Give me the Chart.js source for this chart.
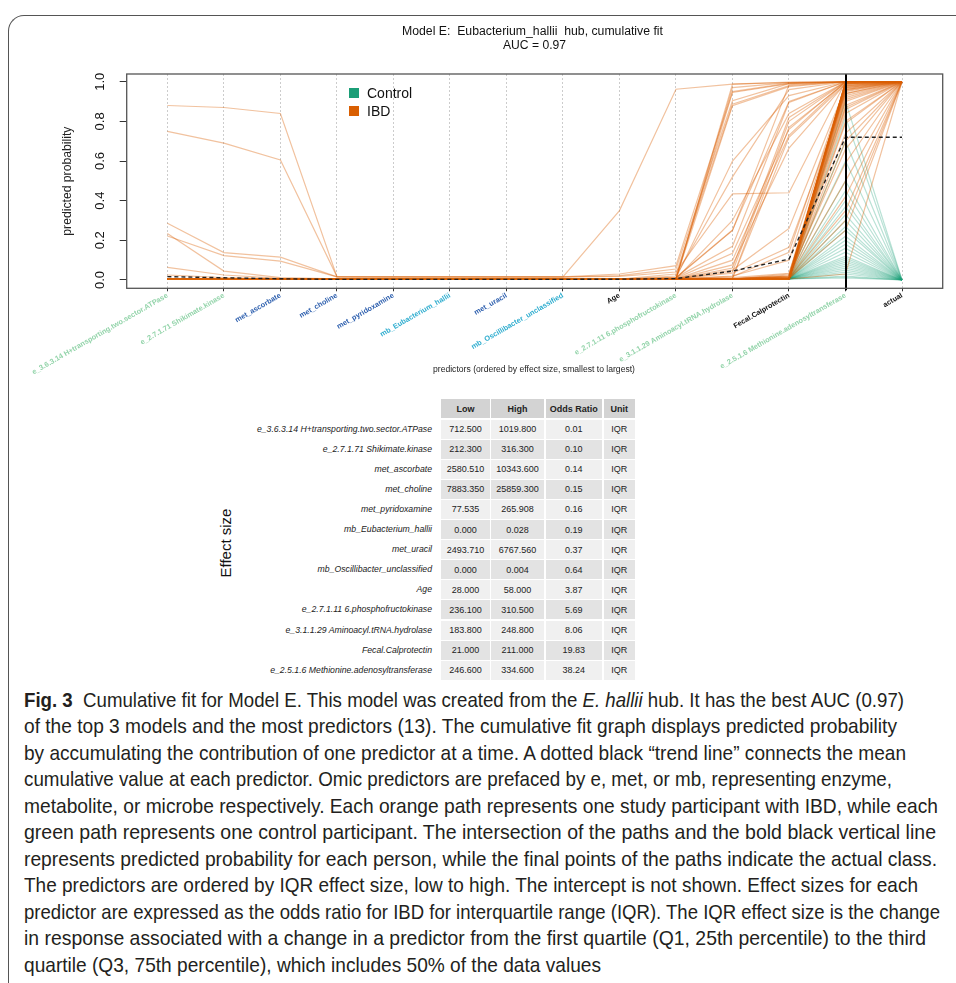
<!DOCTYPE html>
<html><head><meta charset="utf-8">
<script src="https://cdn.jsdelivr.net/npm/chart.js@4.4.0/dist/chart.umd.min.js"></script>
<style>
html,body{margin:0;padding:0;background:#fff;}
body{width:956px;height:983px;position:relative;overflow:hidden;font-family:"Liberation Sans",Arial,sans-serif;color:#111;}
#frame{position:absolute;left:8px;top:15px;width:1000px;height:1100px;border-left:1.5px solid #555;border-top:1.5px solid #555;border-top-left-radius:16px;box-sizing:border-box;}
#chartBox{position:absolute;left:0;top:0;width:956px;height:380px;}
.fit{position:absolute;white-space:nowrap;display:inline-block;transform-origin:0 50%;}
.cell{position:absolute;font-size:9px;display:flex;align-items:center;justify-content:center;color:#222;}
.rlab{position:absolute;font-size:8.7px;font-style:italic;text-align:right;color:#222;white-space:nowrap;}
.cap{font-family:"Liberation Sans Narrow","Liberation Sans",Arial,sans-serif;font-size:21px;line-height:26px;height:26px;color:#231f20;}
</style></head>
<body>
<div id="frame"></div>
<div id="chartBox"><canvas id="c" width="956" height="380"></canvas></div>
<div id="titles"></div>
<div id="legend"></div>
<div id="table"></div>
<div id="caption"></div>
<script>
// ---------------- data ----------------
const predictors = ["e_3.6.3.14 H+transporting.two.sector.ATPase","e_2.7.1.71 Shikimate.kinase","met_ascorbate","met_choline","met_pyridoxamine","mb_Eubacterium_hallii","met_uracil","mb_Oscillibacter_unclassified","Age","e_2.7.1.11 6.phosphofructokinase","e_3.1.1.29 Aminoacyl.tRNA.hydrolase","Fecal.Calprotectin","e_2.5.1.6 Methionine.adenosyltransferase"];
const axisLabels = predictors.concat(["actual"]);
const yTicks = [0, 0.2, 0.4, 0.6, 0.8, 1.0];
const predictedIndex = 12;
const ibdActual = 1;
const controlActual = 0;
const meanPath = [0.017,0.011,0.006,0.003,0.003,0.003,0.003,0.003,0.004,0.007,0.045,0.105,0.720,0.720];

const ibdEarly = [
[0.880,0.870,0.840,0.017,0.016,0.016,0.016,0.016,0.350,0.962,0.988,0.996,1.000],
[0.750,0.690,0.605,0.017,0.016,0.016,0.016,0.016,0.030,0.072,0.950,0.993,1.000],
[0.286,0.138,0.115,0.016,0.015,0.015,0.015,0.015,0.022,0.055,0.904,0.990,1.000],
[0.222,0.123,0.095,0.016,0.015,0.015,0.015,0.015,0.018,0.040,0.434,0.440,1.000],
[0.235,0.045,0.012,0.006,0.005,0.005,0.005,0.005,0.005,0.030,0.887,0.980,1.000],
[0.064,0.025,0.008,0.005,0.005,0.005,0.005,0.005,0.005,0.020,0.520,0.960,1.000],
[0.025,0.012,0.006,0.005,0.005,0.005,0.005,0.005,0.005,0.013,0.252,0.900,1.000]
];
const ibdMid = [
[0.006,0.005,0.005,0.004,0.004,0.004,0.004,0.004,0.004,0.006,0.988,0.998,1.000],
[0.006,0.005,0.005,0.004,0.004,0.004,0.004,0.004,0.004,0.006,0.970,0.995,1.000],
[0.005,0.005,0.005,0.004,0.004,0.004,0.004,0.004,0.004,0.007,0.946,0.990,1.000],
[0.005,0.005,0.005,0.004,0.004,0.004,0.004,0.004,0.004,0.008,0.879,0.975,1.000],
[0.005,0.005,0.005,0.004,0.004,0.004,0.004,0.004,0.004,0.010,0.600,0.930,1.000],
[0.005,0.005,0.005,0.004,0.004,0.004,0.004,0.004,0.004,0.012,0.170,0.895,1.000],
[0.005,0.005,0.005,0.004,0.004,0.004,0.004,0.004,0.004,0.008,0.135,0.760,1.000],
[0.005,0.005,0.005,0.004,0.004,0.004,0.004,0.004,0.004,0.006,0.100,0.730,1.000],
[0.005,0.005,0.005,0.004,0.004,0.004,0.004,0.004,0.004,0.006,0.076,0.665,0.990],
[0.005,0.005,0.005,0.004,0.004,0.004,0.004,0.004,0.004,0.006,0.050,0.260,0.970],
[0.005,0.005,0.005,0.004,0.004,0.004,0.004,0.004,0.004,0.005,0.034,0.165,0.940],
[0.005,0.005,0.005,0.004,0.004,0.004,0.004,0.004,0.004,0.005,0.017,0.140,0.980],
[0.005,0.005,0.005,0.004,0.004,0.004,0.004,0.004,0.004,0.010,0.250,0.985,1.000],
[0.005,0.005,0.005,0.004,0.004,0.004,0.004,0.004,0.004,0.007,0.300,0.840,1.000],
[0.005,0.005,0.005,0.004,0.004,0.004,0.004,0.004,0.004,0.006,0.020,0.100,0.960],
[0.005,0.005,0.005,0.004,0.004,0.004,0.004,0.004,0.004,0.006,0.012,0.034,0.870],
[0.005,0.005,0.005,0.004,0.004,0.004,0.004,0.004,0.004,0.005,0.060,0.820,1.000],
[0.005,0.005,0.005,0.004,0.004,0.004,0.004,0.004,0.004,0.005,0.040,0.800,1.000],
[0.005,0.005,0.005,0.004,0.004,0.004,0.004,0.004,0.004,0.005,0.010,0.770,0.995],
[0.005,0.005,0.005,0.004,0.004,0.004,0.004,0.004,0.004,0.005,0.008,0.720,0.990]
];
const ibdLate = [
[0.006,0.005,0.005,0.004,0.004,0.004,0.004,0.004,0.004,0.005,0.006,0.007,1.000],
[0.005,0.005,0.004,0.004,0.004,0.004,0.004,0.004,0.004,0.004,0.005,0.005,1.000],
[0.006,0.005,0.005,0.004,0.004,0.004,0.004,0.004,0.004,0.005,0.006,0.012,0.999],
[0.005,0.005,0.004,0.004,0.004,0.004,0.004,0.004,0.004,0.004,0.005,0.005,0.998],
[0.006,0.005,0.005,0.004,0.004,0.004,0.004,0.004,0.004,0.005,0.006,0.020,0.997],
[0.005,0.005,0.004,0.004,0.004,0.004,0.004,0.004,0.004,0.004,0.005,0.006,0.996],
[0.006,0.005,0.005,0.004,0.004,0.004,0.004,0.004,0.004,0.005,0.006,0.008,0.995],
[0.005,0.005,0.004,0.004,0.004,0.004,0.004,0.004,0.004,0.004,0.005,0.005,0.994],
[0.006,0.005,0.005,0.004,0.004,0.004,0.004,0.004,0.004,0.005,0.006,0.030,0.992],
[0.005,0.005,0.004,0.004,0.004,0.004,0.004,0.004,0.004,0.004,0.005,0.006,0.990],
[0.006,0.005,0.005,0.004,0.004,0.004,0.004,0.004,0.004,0.005,0.006,0.010,0.988],
[0.005,0.005,0.004,0.004,0.004,0.004,0.004,0.004,0.004,0.004,0.005,0.005,0.985],
[0.006,0.005,0.005,0.004,0.004,0.004,0.004,0.004,0.004,0.005,0.006,0.015,0.982],
[0.005,0.005,0.004,0.004,0.004,0.004,0.004,0.004,0.004,0.004,0.005,0.006,0.978],
[0.006,0.005,0.005,0.004,0.004,0.004,0.004,0.004,0.004,0.005,0.006,0.007,0.975],
[0.005,0.005,0.004,0.004,0.004,0.004,0.004,0.004,0.004,0.004,0.005,0.005,0.970],
[0.006,0.005,0.005,0.004,0.004,0.004,0.004,0.004,0.004,0.005,0.006,0.025,0.965],
[0.005,0.005,0.004,0.004,0.004,0.004,0.004,0.004,0.004,0.004,0.005,0.006,0.960],
[0.006,0.005,0.005,0.004,0.004,0.004,0.004,0.004,0.004,0.005,0.006,0.009,0.955],
[0.005,0.005,0.004,0.004,0.004,0.004,0.004,0.004,0.004,0.004,0.005,0.005,0.950],
[0.006,0.005,0.005,0.004,0.004,0.004,0.004,0.004,0.004,0.005,0.006,0.012,0.940],
[0.005,0.005,0.004,0.004,0.004,0.004,0.004,0.004,0.004,0.004,0.005,0.006,0.930],
[0.006,0.005,0.005,0.004,0.004,0.004,0.004,0.004,0.004,0.005,0.006,0.008,0.920],
[0.005,0.005,0.004,0.004,0.004,0.004,0.004,0.004,0.004,0.004,0.005,0.005,0.910],
[0.006,0.005,0.005,0.004,0.004,0.004,0.004,0.004,0.004,0.005,0.006,0.018,0.900],
[0.005,0.005,0.004,0.004,0.004,0.004,0.004,0.004,0.004,0.004,0.005,0.006,0.880],
[0.006,0.005,0.005,0.004,0.004,0.004,0.004,0.004,0.004,0.005,0.006,0.010,0.860],
[0.005,0.005,0.004,0.004,0.004,0.004,0.004,0.004,0.004,0.004,0.005,0.005,0.840],
[0.006,0.005,0.005,0.004,0.004,0.004,0.004,0.004,0.004,0.005,0.006,0.014,0.800],
[0.005,0.005,0.004,0.004,0.004,0.004,0.004,0.004,0.004,0.004,0.005,0.006,0.790],
[0.006,0.005,0.005,0.004,0.004,0.004,0.004,0.004,0.004,0.005,0.006,0.007,0.740],
[0.005,0.005,0.004,0.004,0.004,0.004,0.004,0.004,0.004,0.004,0.005,0.005,0.700],
[0.006,0.005,0.005,0.004,0.004,0.004,0.004,0.004,0.004,0.005,0.006,0.020,0.660],
[0.005,0.005,0.004,0.004,0.004,0.004,0.004,0.004,0.004,0.004,0.005,0.006,0.590],
[0.006,0.005,0.005,0.004,0.004,0.004,0.004,0.004,0.004,0.005,0.006,0.009,0.500],
[0.005,0.005,0.004,0.004,0.004,0.004,0.004,0.004,0.004,0.004,0.005,0.005,0.420],
[0.006,0.005,0.005,0.004,0.004,0.004,0.004,0.004,0.004,0.005,0.006,0.011,0.350],
[0.005,0.005,0.004,0.004,0.004,0.004,0.004,0.004,0.004,0.004,0.005,0.006,0.300],
[0.006,0.005,0.005,0.004,0.004,0.004,0.004,0.004,0.004,0.005,0.006,0.008,0.250],
[0.005,0.005,0.004,0.004,0.004,0.004,0.004,0.004,0.004,0.004,0.005,0.005,0.030]
];
const controlPaths = [
[0.005,0.005,0.004,0.004,0.004,0.004,0.004,0.004,0.004,0.004,0.005,0.005,0.900],
[0.005,0.004,0.004,0.004,0.004,0.004,0.004,0.004,0.004,0.004,0.004,0.005,0.820],
[0.005,0.005,0.004,0.004,0.004,0.004,0.004,0.004,0.004,0.004,0.005,0.006,0.700],
[0.005,0.004,0.004,0.004,0.004,0.004,0.004,0.004,0.004,0.004,0.004,0.005,0.600],
[0.005,0.005,0.004,0.004,0.004,0.004,0.004,0.004,0.004,0.004,0.005,0.005,0.500],
[0.005,0.005,0.004,0.004,0.004,0.004,0.004,0.004,0.004,0.004,0.005,0.006,0.450],
[0.005,0.004,0.004,0.004,0.004,0.004,0.004,0.004,0.004,0.004,0.004,0.005,0.400],
[0.005,0.005,0.004,0.004,0.004,0.004,0.004,0.004,0.004,0.004,0.005,0.005,0.370],
[0.005,0.005,0.004,0.004,0.004,0.004,0.004,0.004,0.004,0.004,0.005,0.006,0.330],
[0.005,0.004,0.004,0.004,0.004,0.004,0.004,0.004,0.004,0.004,0.004,0.005,0.300],
[0.005,0.005,0.004,0.004,0.004,0.004,0.004,0.004,0.004,0.004,0.005,0.005,0.270],
[0.005,0.005,0.004,0.004,0.004,0.004,0.004,0.004,0.004,0.004,0.005,0.006,0.250],
[0.005,0.004,0.004,0.004,0.004,0.004,0.004,0.004,0.004,0.004,0.004,0.005,0.220],
[0.005,0.005,0.004,0.004,0.004,0.004,0.004,0.004,0.004,0.004,0.005,0.005,0.200],
[0.005,0.005,0.004,0.004,0.004,0.004,0.004,0.004,0.004,0.004,0.005,0.006,0.180],
[0.005,0.004,0.004,0.004,0.004,0.004,0.004,0.004,0.004,0.004,0.004,0.005,0.160],
[0.005,0.005,0.004,0.004,0.004,0.004,0.004,0.004,0.004,0.004,0.005,0.005,0.140],
[0.005,0.005,0.004,0.004,0.004,0.004,0.004,0.004,0.004,0.004,0.005,0.006,0.120],
[0.005,0.004,0.004,0.004,0.004,0.004,0.004,0.004,0.004,0.004,0.004,0.005,0.110],
[0.005,0.005,0.004,0.004,0.004,0.004,0.004,0.004,0.004,0.004,0.005,0.005,0.100],
[0.005,0.005,0.004,0.004,0.004,0.004,0.004,0.004,0.004,0.004,0.005,0.006,0.090],
[0.005,0.004,0.004,0.004,0.004,0.004,0.004,0.004,0.004,0.004,0.004,0.005,0.080],
[0.005,0.005,0.004,0.004,0.004,0.004,0.004,0.004,0.004,0.004,0.005,0.005,0.070],
[0.005,0.005,0.004,0.004,0.004,0.004,0.004,0.004,0.004,0.004,0.005,0.006,0.060],
[0.005,0.004,0.004,0.004,0.004,0.004,0.004,0.004,0.004,0.004,0.004,0.005,0.050],
[0.005,0.005,0.004,0.004,0.004,0.004,0.004,0.004,0.004,0.004,0.005,0.005,0.040],
[0.005,0.005,0.004,0.004,0.004,0.004,0.004,0.004,0.004,0.004,0.005,0.006,0.030],
[0.005,0.004,0.004,0.004,0.004,0.004,0.004,0.004,0.004,0.004,0.004,0.005,0.020],
[0.005,0.005,0.004,0.004,0.004,0.004,0.004,0.004,0.004,0.004,0.005,0.005,0.015],
[0.005,0.005,0.004,0.004,0.004,0.004,0.004,0.004,0.004,0.004,0.005,0.006,0.010]
];

// table values
const tableLow  = ["712.500","212.300","2580.510","7883.350","77.535","0.000","2493.710","0.000","28.000","236.100","183.800","21.000","246.600"];
const tableHigh = ["1019.800","316.300","10343.600","25859.300","265.908","0.028","6767.560","0.004","58.000","310.500","248.800","211.000","334.600"];
const tableOdds = ["0.01","0.10","0.14","0.15","0.16","0.19","0.37","0.64","3.87","5.69","8.06","19.83","38.24"];
const tableUnit = ["IQR","IQR","IQR","IQR","IQR","IQR","IQR","IQR","IQR","IQR","IQR","IQR","IQR"];
const tableHeader = ["Low","High","Odds Ratio","Unit"];

// ---------------- styles ----------------
const ORANGE = 'rgba(217,95,2,0.38)';
const GREEN = 'rgba(27,158,119,0.30)';
function labelColor(name){
  if (name.startsWith('e_')) return '#93d4aa';
  if (name.startsWith('met_')) return '#2d5fae';
  if (name.startsWith('mb_')) return '#2fadcf';
  return '#111';
}
function toPoints(arr){ return arr.map((v,i)=>({x:i,y:v})); }
// Chart.js paints dataset 0 last (on top): mean first, then IBD, then controls underneath
const datasets = [];
datasets.push({data:toPoints(meanPath),borderColor:'#222',borderWidth:1.4,borderDash:[4,3]});
ibdEarly.concat(ibdMid, ibdLate).forEach(p=>datasets.push({data:toPoints(p.concat([ibdActual])),borderColor:ORANGE,borderWidth:1.2}));
controlPaths.forEach(p=>datasets.push({data:toPoints(p.concat([controlActual])),borderColor:GREEN,borderWidth:1.2}));

const framePlugin = {
  id:'frame',
  afterDatasetsDraw(chart){
    const {ctx, chartArea:a, scales:{x}} = chart;
    ctx.save();
    const px = Math.round(x.getPixelForValue(predictedIndex));
    ctx.strokeStyle='#000'; ctx.lineWidth=2;
    ctx.beginPath(); ctx.moveTo(px, a.top); ctx.lineTo(px, a.bottom+2); ctx.stroke();
    ctx.strokeStyle='#555'; ctx.lineWidth=1.3;
    ctx.strokeRect(a.left, a.top, a.right-a.left, a.bottom-a.top);
    ctx.restore();
  }
};

new Chart(document.getElementById('c'), {
  type:'line',
  data:{datasets},
  plugins:[framePlugin],
  options:{
    responsive:false, animation:false, events:[],
    elements:{point:{radius:0},line:{tension:0}},
    layout:{padding:{top:74,right:13.3,left:0,bottom:0}},
    plugins:{legend:{display:false},tooltip:{enabled:false},title:{display:false}},
    scales:{
      x:{type:'linear',min:-0.72,max:13.72,
        afterBuildTicks:s=>{s.ticks=axisLabels.map((_,i)=>({value:i}));},
        afterFit:s=>{s.height=91.7;},
        ticks:{autoSkip:false,minRotation:30,maxRotation:30,padding:0,
          callback:(v)=>axisLabels[Math.round(v)],
          color:(c)=>labelColor(axisLabels[c.index]||''),
          font:{family:'Liberation Sans',size:7.3,weight:'bold'}},
        grid:{color:'#cccccc',lineWidth:1,tickColor:'#333',tickLength:3},
        border:{display:false,dash:[2,2]}
      },
      y:{min:-0.042,max:1.039,
        afterBuildTicks:s=>{s.ticks=yTicks.map(v=>({value:v}));},
        afterFit:s=>{s.width=126.7;},
        ticks:{minRotation:90,maxRotation:90,crossAlign:'center',padding:10,color:'#111',
          font:{family:'Liberation Sans',size:13},
          callback:(v)=>Number(v).toFixed(1)},
        grid:{drawOnChartArea:false,tickColor:'#333',tickLength:7},
        border:{display:false},
        title:{display:true,text:'predicted probability',color:'#222',
          font:{family:'Liberation Sans',size:12.2},padding:{top:60,bottom:0}}
      }
    }
  }
});

// ---------------- HTML text ----------------
function fitText(parent, html, left, top, target, css){
  const el=document.createElement('span');
  el.className='fit'; el.innerHTML=html; el.style.cssText+=css||'';
  el.style.left=left+'px'; el.style.top=top+'px';
  parent.appendChild(el);
  const w=el.getBoundingClientRect().width;
  if (target) el.style.transform='scaleX('+(target/w)+')';
  return el;
}
const titles=document.getElementById('titles');
fitText(titles,'Model E:&nbsp; Eubacterium_hallii&nbsp; hub, cumulative fit',402,24,261,'font-size:12px;line-height:14px;color:#111;');
fitText(titles,'AUC = 0.97',503,38,63,'font-size:12px;line-height:14px;color:#111;');
fitText(titles,'predictors (ordered by effect size, smallest to largest)',433,363,202,'font-size:8.5px;line-height:12px;color:#222;');

const legend=document.getElementById('legend');
legend.innerHTML=
 '<div style="position:absolute;left:349px;top:88px;width:10px;height:10px;background:#1b9e77"></div>'+
 '<div style="position:absolute;left:349px;top:106px;width:10px;height:10px;background:#d95f02"></div>'+
 '<div style="position:absolute;left:367px;top:85px;font-size:14px;line-height:16px;color:#111">Control</div>'+
 '<div style="position:absolute;left:367px;top:103px;font-size:14px;line-height:16px;color:#111">IBD</div>';

// table
const tbl=document.getElementById('table');
const cols=[[441,49],[491,53],[545.5,56.5],[603.5,31.5]];
const colVals=[tableLow,tableHigh,tableOdds,tableUnit];
let h='';
tableHeader.forEach((t,j)=>{h+=`<div class="cell" style="left:${cols[j][0]}px;top:399px;width:${cols[j][1]}px;height:19px;background:#d3d3d3;font-weight:bold;">${t}</div>`;});
predictors.forEach((name,i)=>{
  const top=419.5+i*20.1;
  const bg = i%2===0 ? '#f0f0f0' : '#e3e3e3';
  h+=`<div class="rlab" style="right:${956-432}px;top:${top}px;height:19px;line-height:19px;">${name}</div>`;
  colVals.forEach((vals,j)=>{h+=`<div class="cell" style="left:${cols[j][0]}px;top:${top}px;width:${cols[j][1]}px;height:19px;background:${bg};">${vals[i]}</div>`;});
});
h+='<div style="position:absolute;left:225px;top:543px;transform:translate(-50%,-50%) rotate(-90deg);font-size:15px;white-space:nowrap;color:#111">Effect size</div>';
tbl.innerHTML=h;

// caption
const capLines=[
 ['<b>Fig. 3</b>&nbsp; Cumulative fit for Model E. This model was created from the <i>E. hallii</i> hub. It has the best AUC (0.97)',904],
 ['of the top 3 models and the most predictors (13). The cumulative fit graph displays predicted probability',897],
 ['by accumulating the contribution of one predictor at a time. A dotted black “trend line” connects the mean',906],
 ['cumulative value at each predictor. Omic predictors are prefaced by e, met, or mb, representing enzyme,',892],
 ['metabolite, or microbe respectively. Each orange path represents one study participant with IBD, while each',938],
 ['green path represents one control participant. The intersection of the paths and the bold black vertical line',936],
 ['represents predicted probability for each person, while the final points of the paths indicate the actual class.',937],
 ['The predictors are ordered by IQR effect size, low to high. The intercept is not shown. Effect sizes for each',918],
 ['predictor are expressed as the odds ratio for IBD for interquartile range (IQR). The IQR effect size is the change',940],
 ['in response associated with a change in a predictor from the first quartile (Q1, 25th percentile) to the third',926],
 ['quartile (Q3, 75th percentile), which includes 50% of the data values',601]
];
const cap=document.getElementById('caption');
capLines.forEach((l,i)=>{
  const el=fitText(cap,l[0],24,687+i*26.45,l[1]-24,'');
  el.classList.add('cap');
});
cap.querySelectorAll('.fit').forEach((el,i)=>{
  el.style.transform='';
  const w=el.getBoundingClientRect().width;
  el.style.transform='scaleX('+((capLines[i][1]-24)/w)+')';
});
</script>
</body></html>
